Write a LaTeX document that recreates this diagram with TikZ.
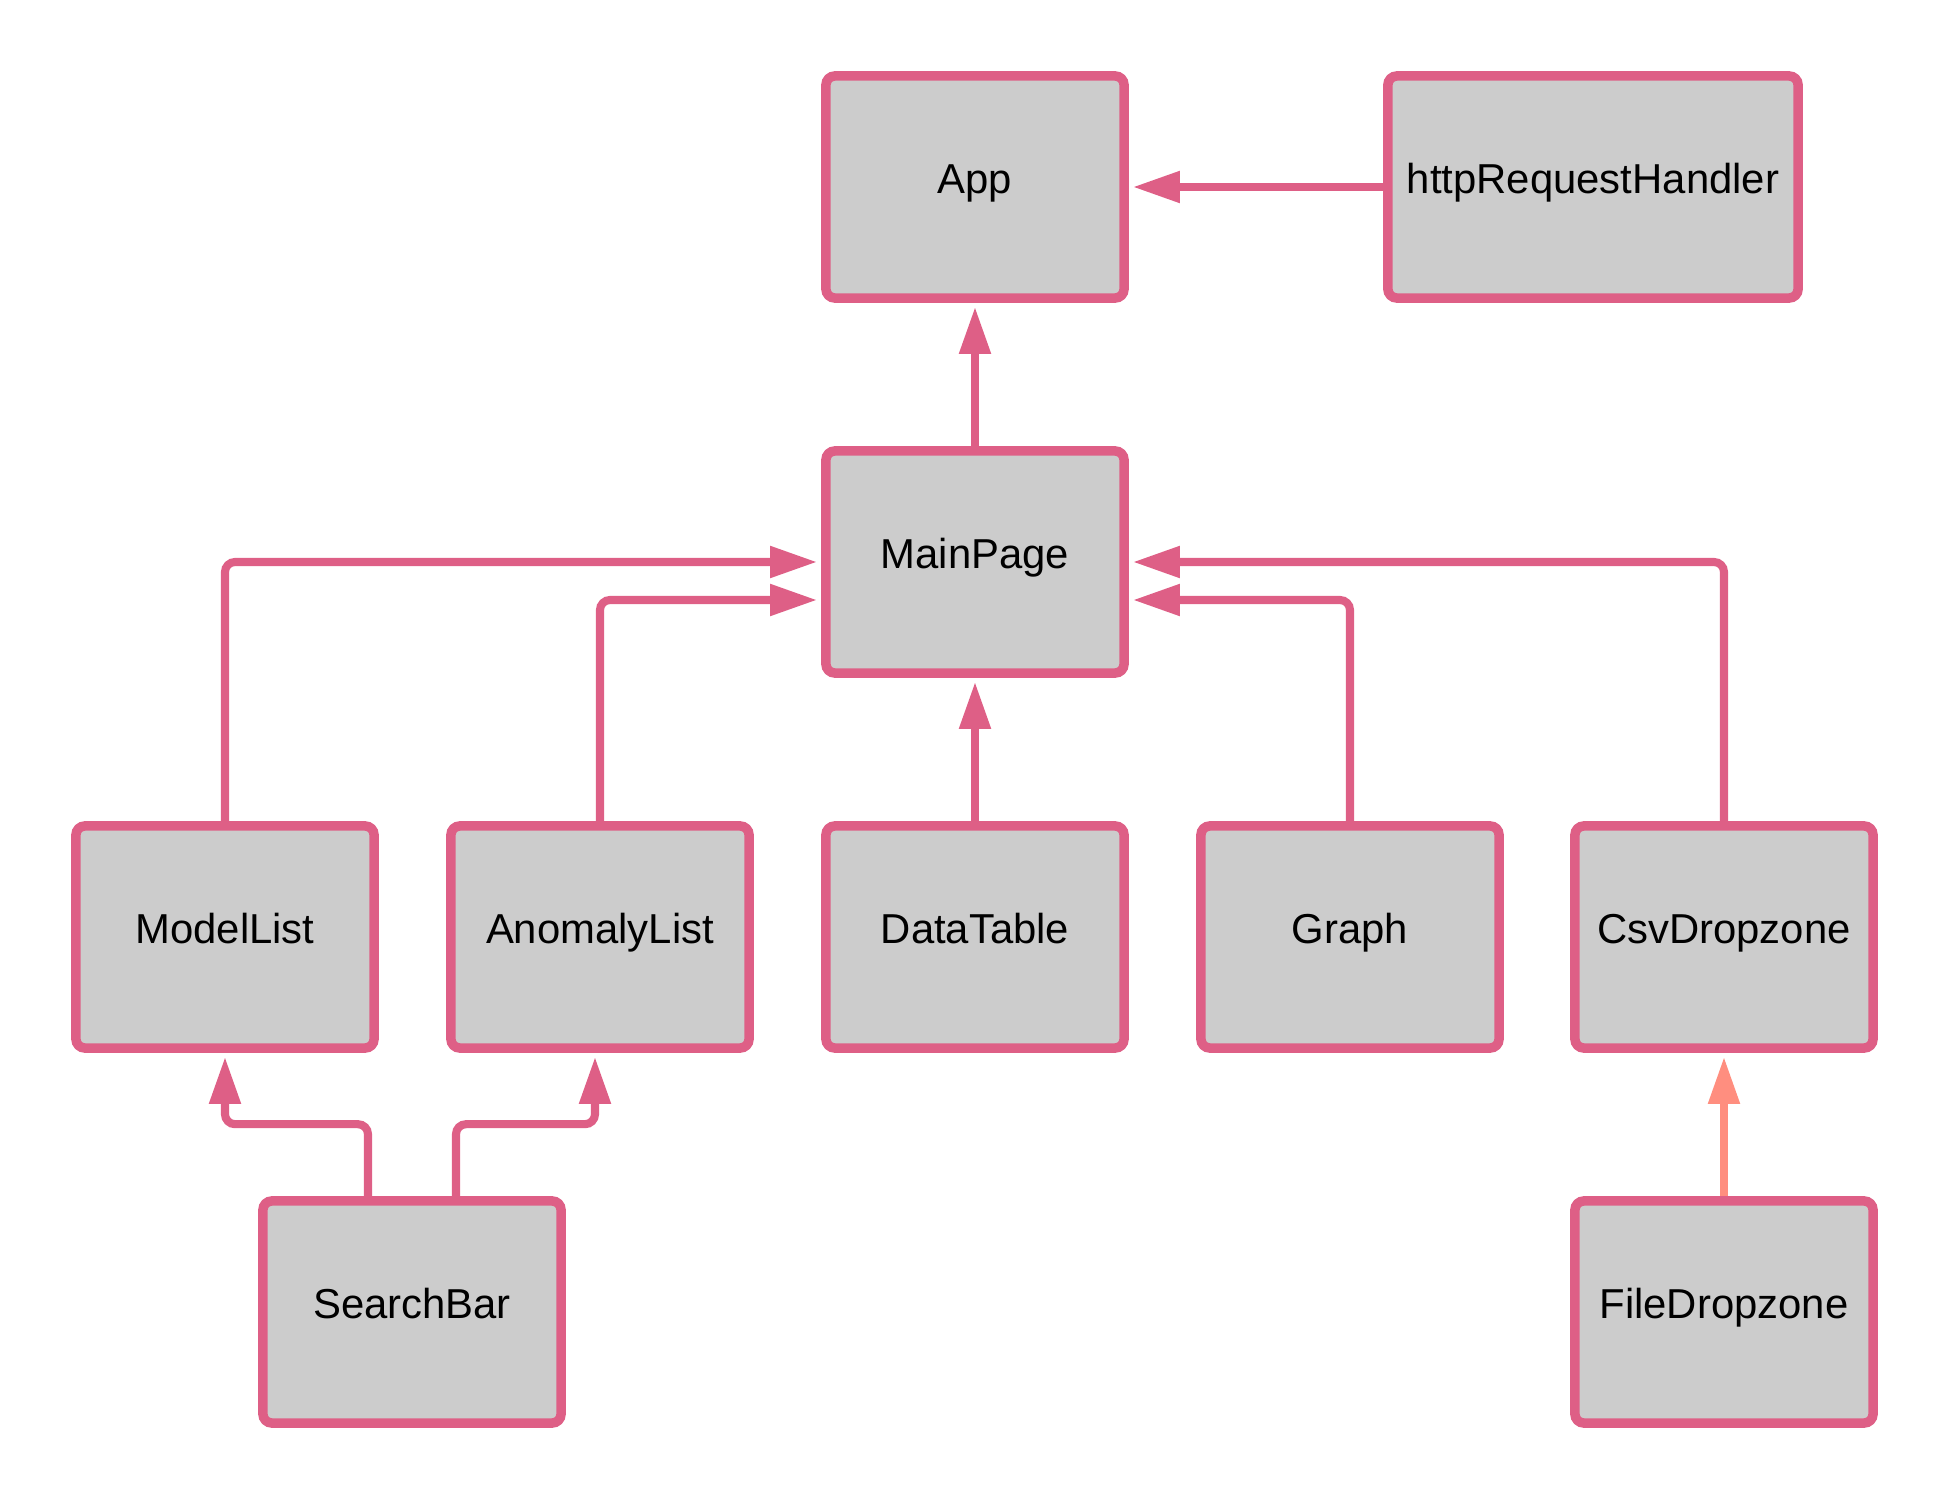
\documentclass[tikz,border=0pt]{standalone}
\usepackage{fontspec}
\setmainfont{Liberation Sans}
\usepackage{tikz}
\usetikzlibrary{calc}
\usetikzlibrary{positioning}
\usetikzlibrary{arrows.meta}
\definecolor{pinkline}{RGB}{222,95,134}
\definecolor{boxgray}{RGB}{204,204,204}
\definecolor{salmon}{RGB}{255,142,127}

\begin{document}
\begin{tikzpicture}[x=0.01cm, y=-0.01cm, >={Triangle[length=0.47cm,width=0.3cm]},
    comp/.style={draw=pinkline, fill=boxgray, line width=2.7pt, rounded corners=0.09cm,
        minimum width=2.98cm, minimum height=2.22cm, inner sep=0pt,
        font=\fontsize{11.9pt}{14pt}\selectfont, text height=0.73em, text depth=0.35em},
    link/.style={pinkline, line width=2.3pt, rounded corners=0.1cm, ->, shorten >=0.04cm}]
        \useasboundingbox (0,0) rectangle (1950,1500);

        \path 
        (975,187)  coordinate (1)
        (1593,187) coordinate (2)
        (975,562)  coordinate (3)
        (225,937)  coordinate (4)
        (600,937)  coordinate (5)
        (975,937)  coordinate (6)
        (1350,937) coordinate (7)
        (1724,937) coordinate (8)
        (412,1312) coordinate (9)
        (1724,1312) coordinate (10)
        ;
        
        \draw 
        (1) node[comp] (App) {App}
        (2) node[comp, minimum width=4.1cm] (http) {httpRequestHandler}
        (3) node[comp] (MainPage) {MainPage}
        (4) node[comp] (ModelList) {ModelList}
        (5) node[comp] (AnomalyList) {AnomalyList}
        (6) node[comp] (DataTable) {DataTable}
        (7) node[comp] (Graph) {Graph}
        (8) node[comp] (CsvDropzone) {CsvDropzone}
        (9) node[comp] (SearchBar) {SearchBar}
        (10) node[comp] (FileDropzone) {FileDropzone}
        ;
        
        \draw[link] (http) to (App);
        \draw[link] (MainPage) to (App);
        \draw[link] (DataTable) to (MainPage);

        \draw[link] (ModelList.north) |- (MainPage.west);
        \draw[link] (AnomalyList.north) |- ($(MainPage.west)+(0,38)$);
        \draw[link] (CsvDropzone.north) |- (MainPage.east);
        \draw[link] (Graph.north) |- ($(MainPage.east)+(0,38)$);

        \draw[link] ($(SearchBar.north)+(-44,0)$) -- ++(0,-72) -| (ModelList.south);
        \draw[link] ($(SearchBar.north)+(44,0)$) -- ++(0,-72) -| ($(AnomalyList.south)+(-5,0)$);

\draw[link, salmon] (FileDropzone) to (CsvDropzone);
\end{tikzpicture}
\end{document}
